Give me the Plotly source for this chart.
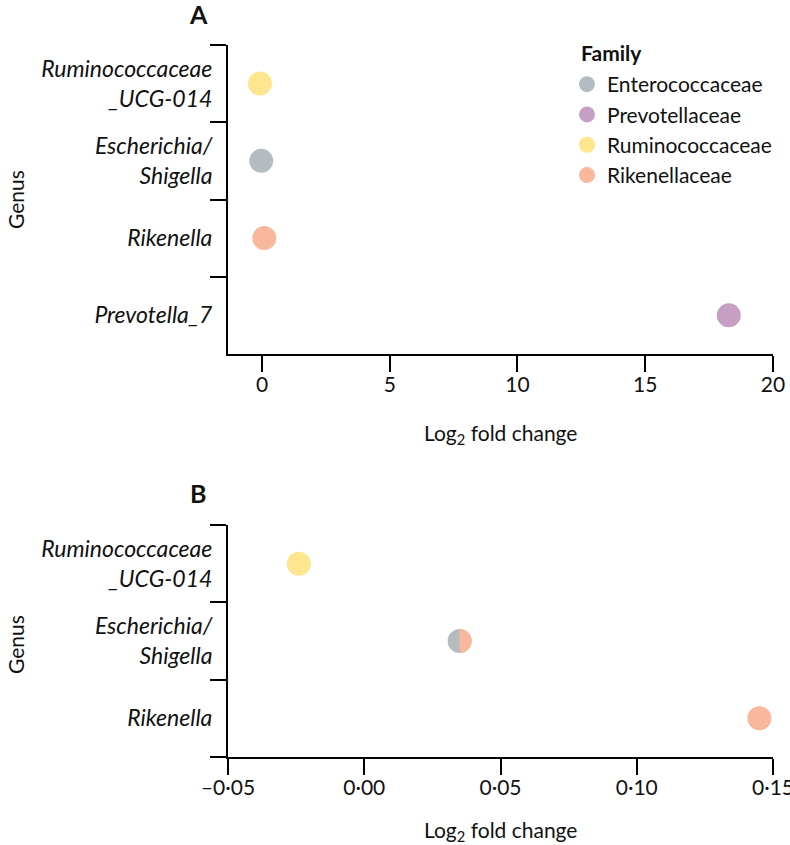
import numpy as np
import plotly.graph_objects as go

# ---------------- data ----------------
families = ["Enterococcaceae", "Prevotellaceae", "Ruminococcaceae", "Rikenellaceae"]
family_colors = ["#B4BCC1", "#C59FC4", "#FDE68E", "#F9B79B"]

genera_a = ["Ruminococcaceae_UCG-014", "Escherichia/Shigella", "Rikenella", "Prevotella_7"]
genus_labels_a = ["<i>Ruminococcaceae<br>_UCG-014</i>", "<i>Escherichia/<br>Shigella</i>",
                  "<i>Rikenella</i>", "<i>Prevotella_7</i>"]
lfc_a = [-0.08, -0.03, 0.09, 18.27]
family_a = [["Ruminococcaceae"], ["Enterococcaceae"], ["Rikenellaceae"], ["Prevotellaceae"]]

genera_b = ["Ruminococcaceae_UCG-014", "Escherichia/Shigella", "Rikenella"]
genus_labels_b = ["<i>Ruminococcaceae<br>_UCG-014</i>", "<i>Escherichia/<br>Shigella</i>",
                  "<i>Rikenella</i>"]
lfc_b = [-0.024, 0.035, 0.145]
family_b = [["Ruminococcaceae"], ["Enterococcaceae", "Rikenellaceae"], ["Rikenellaceae"]]

ticks_a = [0, 5, 10, 15, 20]
ticklabels_a = ["0", "5", "10", "15", "20"]
ticks_b = [-0.05, 0.0, 0.05, 0.10, 0.15]
ticklabels_b = ["–0·05", "0·00", "0·05", "0·10", "0·15"]

# ---------------- figure ----------------
W, H = 790, 845
FONT = "Lato"
TXT = "#111111"
MSIZE = 24

fig = go.Figure()
color_of = dict(zip(families, family_colors))

for fam, col in zip(families, family_colors):
    xa = [v for v, f in zip(lfc_a, family_a) if f[0] == fam]
    ya = [g for g, f in zip(genera_a, family_a) if f[0] == fam]
    fig.add_trace(go.Scatter(x=xa, y=ya, mode="markers", name=fam, legendgroup=fam,
                             marker=dict(color=col, size=MSIZE, line=dict(width=0)),
                             xaxis="x", yaxis="y", showlegend=True))
    xb = [v for v, f in zip(lfc_b, family_b) if f[0] == fam]
    yb = [g for g, f in zip(genera_b, family_b) if f[0] == fam]
    fig.add_trace(go.Scatter(x=xb, y=yb, mode="markers", name=fam, legendgroup=fam,
                             marker=dict(color=col, size=MSIZE, line=dict(width=0)),
                             xaxis="x2", yaxis="y2", showlegend=False))

# right half of split markers (genus belonging to two families)
r = MSIZE / 2
t = np.linspace(0, np.pi, 40)
half_path = "M " + " L ".join(f"{r*np.sin(a):.2f},{r*np.cos(a):.2f}" for a in t) + " Z"
for v, g, f in zip(lfc_b, genera_b, family_b):
    if len(f) > 1:
        fig.add_shape(type="path", xref="x2", yref="y2", xsizemode="pixel", ysizemode="pixel",
                      xanchor=v, yanchor=g, path=half_path,
                      fillcolor=color_of[f[1]], line=dict(width=0), layer="above")

axis_common = dict(showline=True, linewidth=2, linecolor="black", ticks="outside",
                   ticklen=16, tickwidth=2, tickcolor="black", showgrid=False,
                   zeroline=False, automargin=False, ticklabeloverflow="allow")
xtickfont = dict(family=FONT, size=21, color=TXT)
ytickfont = dict(family=FONT, size=23, color=TXT)

xd = [228 / W, 773 / W]
fig.update_layout(
    width=W, height=H,
    margin=dict(l=0, r=0, t=0, b=0),
    paper_bgcolor="white", plot_bgcolor="white",
    font=dict(family=FONT, size=21, color=TXT),
    xaxis=dict(domain=xd, anchor="y", range=[-1.33, 20.0001], tickmode="array",
               tickvals=ticks_a, ticktext=ticklabels_a, tickfont=xtickfont,
               ticklabelstandoff=-5, **axis_common),
    yaxis=dict(domain=[1 - 354 / H, 1 - 45 / H], anchor="x", type="category",
               categoryorder="array", categoryarray=genera_a,
               range=[len(genera_a) - 0.5, -0.5], tickmode="array",
               tickvals=genera_a, ticktext=genus_labels_a, tickson="boundaries",
               tickfont=ytickfont, ticklabelstandoff=9, **axis_common),
    xaxis2=dict(domain=xd, anchor="y2", range=[-0.05, 0.150001], tickmode="array",
                tickvals=ticks_b, ticktext=ticklabels_b, tickfont=xtickfont,
                ticklabelstandoff=-5, **axis_common),
    yaxis2=dict(domain=[1 - 757 / H, 1 - 525 / H], anchor="x2", type="category",
                categoryorder="array", categoryarray=genera_b,
                range=[len(genera_b) - 0.5, -0.5], tickmode="array",
                tickvals=genera_b, ticktext=genus_labels_b, tickson="boundaries",
                tickfont=ytickfont, ticklabelstandoff=9, **axis_common),
    legend=dict(font=dict(family=FONT, size=21, color=TXT),
                x=567 / W, y=1 - 64 / H, xanchor="left", yanchor="top",
                bgcolor="rgba(0,0,0,0)", itemwidth=30, tracegroupgap=0),
    showlegend=True,
)

ann = dict(xref="paper", yref="paper", showarrow=False, font=dict(family=FONT, size=21, color=TXT))
bold = dict(family=FONT, size=25, color=TXT)
fig.add_annotation(text="<b>Family</b>", x=579 / W, y=1 - 53 / H, xanchor="left", yanchor="middle",
                   **ann)
fig.add_annotation(text="<b>A</b>", x=198 / W, y=1 - 14 / H, xanchor="center", yanchor="middle",
                   **{**ann, "font": bold})
fig.add_annotation(text="<b>B</b>", x=198 / W, y=1 - 493 / H, xanchor="center", yanchor="middle",
                   **{**ann, "font": bold})
fig.add_annotation(text="Genus", x=15 / W, y=1 - 200 / H, textangle=-90,
                   xanchor="center", yanchor="middle", **ann)
fig.add_annotation(text="Genus", x=15 / W, y=1 - 645 / H, textangle=-90,
                   xanchor="center", yanchor="middle", **ann)
fig.add_annotation(text="Log<sub>2</sub> fold change", x=500 / W, y=1 - 434 / H,
                   xanchor="center", yanchor="middle", **ann)
fig.add_annotation(text="Log<sub>2</sub> fold change", x=500 / W, y=1 - 831 / H,
                   xanchor="center", yanchor="middle", **ann)

fig.write_html("out.html", config={"displayModeBar": False},
               post_script="document.body.style.margin='0px';document.body.style.overflow='hidden';")
